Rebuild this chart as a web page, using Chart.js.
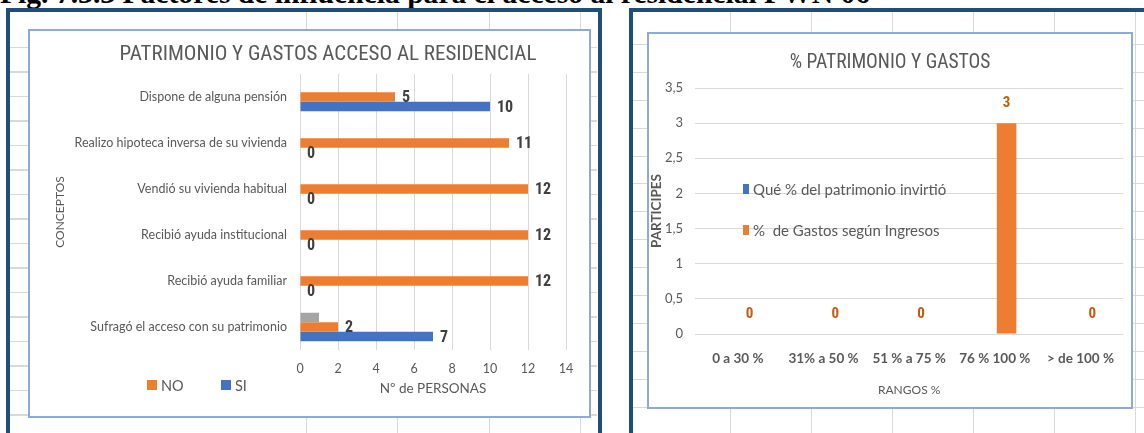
<!DOCTYPE html>
<html lang="es">
<head>
<meta charset="utf-8">
<title>Patrimonio y gastos</title>
<script src="https://cdn.jsdelivr.net/npm/chart.js@4.4.1/dist/chart.umd.min.js"></script>
<style>
  body { margin: 0; width: 1144px; height: 433px; overflow: hidden; background: #fff; position: relative; }
  #fig { position: absolute; left: 0; top: -22px; font: bold 29.6px/30px "Liberation Serif", serif; white-space: nowrap; color: #000; }
  .marco { position: absolute; border: 4px solid #1f4e79; box-sizing: border-box; }
  #marco1 { left: 6px; top: 8px; width: 596px; height: 440px; }
  #marco2 { left: 629px; top: 8px; width: 530px; height: 440px; }
  .hoja { position: absolute; }
  #hojaH1 { left: 10px; top: 47px; width: 587px; height: 386px; background: repeating-linear-gradient(to bottom, #d9d9d9 0 1px, transparent 1px 24.5px); }
  #hojaV1 { left: 306px; top: 12px; width: 285px; height: 421px; background: repeating-linear-gradient(to right, #d9d9d9 0 1px, transparent 1px 91.3px); }
  #hojaH2 { left: 633px; top: 44px; width: 511px; height: 389px; background: repeating-linear-gradient(to bottom, #d9d9d9 0 1px, transparent 1px 27.9px); }
  #hojaV2 { left: 730px; top: 12px; width: 414px; height: 421px; background: repeating-linear-gradient(to right, #d9d9d9 0 1px, transparent 1px 81px); }
  .caja { position: absolute; border: 2px solid #8eaadb; background: #fff; box-sizing: border-box; }
  #caja1 { left: 28px; top: 29px; width: 563px; height: 389px; }
  #caja2 { left: 647px; top: 32px; width: 486px; height: 377px; }
  canvas { display: block; }
</style>
</head>
<body>
<div id="fig">Fig. 7.3.3 Factores de influencia para el acceso al residencial PWN 06</div>
<div class="marco" id="marco1"></div>
<div class="marco" id="marco2"></div>
<div class="hoja" id="hojaH1"></div>
<div class="hoja" id="hojaV1"></div>
<div class="hoja" id="hojaH2"></div>
<div class="hoja" id="hojaV2"></div>
<div class="caja" id="caja1"><canvas id="grafico1" width="559" height="385"></canvas></div>
<div class="caja" id="caja2"><canvas id="grafico2" width="482" height="373"></canvas></div>
<script>
// datos del gráfico de conceptos
const conceptos = [
    "Dispone de alguna pensión",
    "Realizo hipoteca inversa de su vivienda",
    "Vendió su vivienda habitual",
    "Recibió ayuda institucional",
    "Recibió ayuda familiar",
    "Sufragó el acceso con su patrimonio"
];
const personasOtro = [null, null, null, null, null, 1];
const personasNo = [5, 11, 12, 12, 12, 2];
const personasSi = [10, 0, 0, 0, 0, 7];

// datos del gráfico de rangos
const rangos = ["0 a 30 %", "31% a 50 %", "51 % a 75 %", "76 % 100 %", "> de 100 %"];
const patrimonioInvertido = [0, 0, 0, 0, 0];
const gastosIngresos = [0, 0, 0, 3, 0];
const ticksParticipes = ["0", "0,5", "1", "1,5", "2", "2,5", "3", "3,5"];

const NARANJA = '#ed7d31';
const AZUL = '#4472c4';
const GRIS = '#a5a5a5';
const TEXTO = '#595959';
const REJILLA = '#d9d9d9';
const ESTRECHA = '"Liberation Sans Narrow", "Roboto Condensed", sans-serif';

Chart.defaults.font.family = 'Lato, "Open Sans", sans-serif';
Chart.defaults.color = TEXTO;

const etiquetasDatos = {
    id: 'etiquetasDatos',
    afterDatasetsDraw(chart) {
        const ctx = chart.ctx;
        chart.data.datasets.forEach((ds, i) => {
            if (!ds.etiqueta) return;
            const meta = chart.getDatasetMeta(i);
            meta.data.forEach((barra, j) => {
                const valor = ds.data[j];
                if (valor === null) return;
                ctx.save();
                ctx.font = ds.etiqueta.font;
                ctx.fillStyle = ds.etiqueta.color;
                ctx.textBaseline = 'middle';
                if (chart.options.indexAxis === 'y') {
                    ctx.textAlign = 'left';
                    ctx.fillText(valor, barra.x + 7, barra.y + 1);
                } else {
                    ctx.textAlign = 'center';
                    ctx.fillText(valor, barra.x, barra.y - 20);
                }
                ctx.restore();
            });
        });
    }
};

function rotulos(titulo, leyenda) {
    return {
        id: 'rotulos',
        afterDraw(chart) {
            const ctx = chart.ctx;
            ctx.save();
            ctx.fillStyle = TEXTO;
            ctx.font = titulo.font;
            ctx.textAlign = 'center';
            ctx.textBaseline = 'middle';
            ctx.fillText(titulo.texto, titulo.x, titulo.y);
            ctx.textAlign = 'left';
            leyenda.forEach(item => {
                const ds = chart.data.datasets[item.dataset];
                ctx.fillStyle = ds.backgroundColor;
                ctx.fillRect(item.x, item.y - 5, item.w, 10);
                ctx.fillStyle = TEXTO;
                ctx.font = item.font;
                ctx.fillText(ds.label, item.x + item.w + 4, item.y + 1);
            });
            ctx.restore();
        }
    };
}

new Chart(document.querySelector("#grafico1"), {
    type: 'bar',
    data: {
        labels: conceptos,
        datasets: [
            { label: '', data: personasOtro, backgroundColor: GRIS },
            { label: 'NO', data: personasNo, backgroundColor: NARANJA,
              etiqueta: { font: 'bold 16px ' + ESTRECHA, color: '#404040' } },
            { label: 'SI', data: personasSi, backgroundColor: AZUL,
              etiqueta: { font: 'bold 16px ' + ESTRECHA, color: '#404040' } }
        ]
    },
    options: {
        indexAxis: 'y',
        responsive: false,
        animation: false,
        categoryPercentage: 0.62,
        barPercentage: 1,
        layout: { padding: { top: 43, right: 23, left: 0, bottom: 0 } },
        plugins: { legend: { display: false }, tooltip: { enabled: false } },
        scales: {
            x: {
                min: 0, max: 14,
                ticks: { stepSize: 2, padding: 11, font: { size: 12.5 } },
                grid: { color: REJILLA, drawTicks: false },
                border: { display: false },
                title: { display: true, text: 'Nº de PERSONAS', font: { size: 13.5 }, padding: { top: 0, bottom: 19 } },
                afterFit(scale) { scale.height = 66; }
            },
            y: {
                ticks: { padding: 13, font: { size: 12.5 } },
                grid: { display: false, drawTicks: false },
                border: { display: false },
                title: { display: true, text: 'CONCEPTOS', font: { size: 12 }, padding: { top: 23, bottom: 0 } },
                afterFit(scale) { scale.width = 270; }
            }
        }
    },
    plugins: [etiquetasDatos, rotulos(
        { texto: 'PATRIMONIO Y GASTOS ACCESO AL RESIDENCIAL', font: '21px ' + ESTRECHA, x: 298, y: 24 },
        [
            { dataset: 1, x: 117, y: 354, w: 10, font: '14.5px Lato, sans-serif' },
            { dataset: 2, x: 191, y: 354, w: 10, font: '14.5px Lato, sans-serif' }
        ]
    )]
});

new Chart(document.querySelector("#grafico2"), {
    type: 'bar',
    data: {
        labels: rangos,
        datasets: [
            { label: 'Qué % del patrimonio invirtió', data: patrimonioInvertido, backgroundColor: AZUL },
            { label: '%  de Gastos según Ingresos', data: gastosIngresos, backgroundColor: NARANJA,
              etiqueta: { font: 'bold 15px ' + ESTRECHA, color: '#c55a11' } }
        ]
    },
    options: {
        responsive: false,
        animation: false,
        categoryPercentage: 0.55,
        barPercentage: 0.83,
        layout: { padding: { top: 54, right: 0, left: 0, bottom: 0 } },
        plugins: { legend: { display: false }, tooltip: { enabled: false } },
        scales: {
            x: {
                ticks: { padding: 17, font: { size: 13.5, weight: 'bold' } },
                grid: { display: false, drawTicks: false },
                border: { display: false },
                title: { display: true, text: 'RANGOS %', font: { size: 12 }, padding: { top: 0, bottom: 10 } },
                afterFit(scale) { scale.height = 73; }
            },
            y: {
                min: 0, max: 3.5,
                ticks: { stepSize: 0.5, padding: 12, font: { size: 13 }, callback: (valor, i) => ticksParticipes[i] },
                grid: { color: REJILLA, drawTicks: false },
                border: { display: false },
                title: { display: true, text: 'PARTICIPES', font: { size: 13.5, weight: 'bold' }, padding: { top: 0, bottom: 0 } },
                afterFit(scale) { scale.width = 46; }
            }
        }
    },
    plugins: [etiquetasDatos, rotulos(
        { texto: '% PATRIMONIO Y GASTOS', font: '19.5px ' + ESTRECHA, x: 241, y: 29 },
        [
            { dataset: 0, x: 94, y: 155, w: 6, font: '15px Lato, sans-serif' },
            { dataset: 1, x: 94, y: 196, w: 6, font: '15px Lato, sans-serif' }
        ]
    )]
});
</script>
</body>
</html>
